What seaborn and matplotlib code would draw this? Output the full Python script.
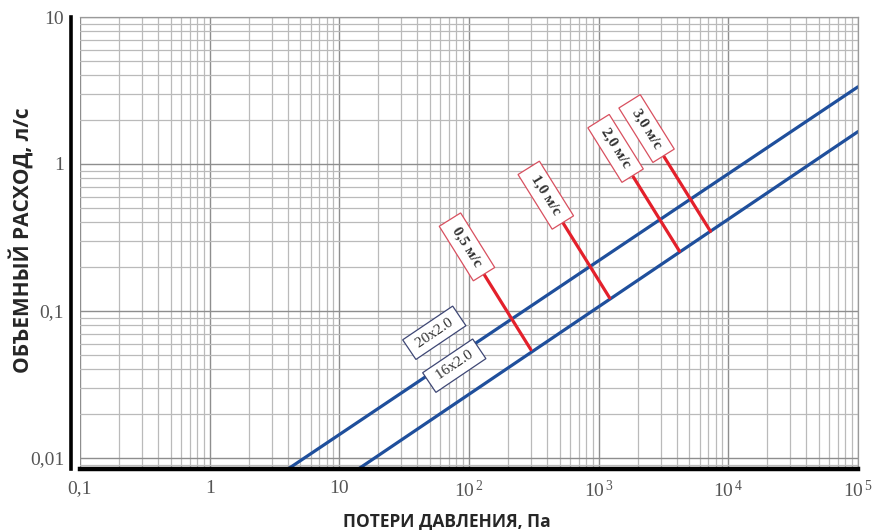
import numpy as np
import matplotlib
matplotlib.use('Agg')
import matplotlib.pyplot as plt
import matplotlib.ticker as mticker
import seaborn as sns

# pipe curves: pressure loss (Pa) vs volume flow (l/s), read at the frame edges
pipe_names = ['20x2.0', '16x2.0']
pipe_dp = [[4.1, 1e5], [14.3, 1e5]]
pipe_q = [[0.0085, 3.35], [0.0085, 1.66]]
# where the pipe name boxes sit
pipe_label_dp = [54, 77]
pipe_label_q = [0.071, 0.0424]

# velocity markers: point on the 16x2.0 curve
vel_labels = ['0,5 м/с', '1,0 м/с', '2,0 м/с', '3,0 м/с']
vel_dp = [300, 1216, 4200, 7280]
vel_q = [0.0545, 0.1225, 0.255, 0.348]

x_ticks = [0.1, 1, 10, 1e2, 1e3, 1e4, 1e5]
x_ticklabels = ['0,1', '1', '10', r'$\mathregular{10^{\,2}}$', r'$\mathregular{10^{\,3}}$',
                r'$\mathregular{10^{\,4}}$', r'$\mathregular{10^{\,5}}$']
y_ticks = [0.01, 0.1, 1, 10]
y_ticklabels = ['0,01', '0,1', '1', '10']

sns.set_style('whitegrid')
plt.rcParams['font.family'] = ['Liberation Serif', 'DejaVu Serif']
plt.rcParams['mathtext.fontset'] = 'custom'
plt.rcParams['mathtext.rm'] = 'Liberation Serif'

fig = plt.figure(figsize=(8.72, 5.3), dpi=100)
ax = fig.add_axes([80 / 872, (530 - 469) / 530, (858 - 80) / 872, (469 - 17) / 530])
ax.set_xscale('log')
ax.set_yscale('log')
ax.set_xlim(0.1, 1e5)
ax.set_ylim(0.0084, 10)

blue = '#1f4f9c'
red = '#e3202b'
for dp, q in zip(pipe_dp, pipe_q):
    sns.lineplot(x=dp, y=q, ax=ax, color=blue, lw=2.3)

# grid
ax.xaxis.set_major_locator(mticker.FixedLocator(x_ticks))
ax.yaxis.set_major_locator(mticker.FixedLocator(y_ticks))
ax.xaxis.set_minor_locator(mticker.LogLocator(base=10, subs=np.arange(2, 10), numticks=100))
ax.yaxis.set_minor_locator(mticker.LogLocator(base=10, subs=np.arange(2, 10), numticks=100))
ax.xaxis.set_minor_formatter(mticker.NullFormatter())
ax.yaxis.set_minor_formatter(mticker.NullFormatter())
ax.grid(which='major', color='#8e8e8e', lw=1.0)
ax.grid(which='minor', color='#bababa', lw=0.9)
ax.set_xticklabels(x_ticklabels)
ax.set_yticklabels(y_ticklabels)
ax.tick_params(axis='x', which='both', length=0, pad=8, labelsize=14, labelcolor='#555555')
ax.tick_params(axis='y', which='major', length=3, width=1, color='#777777', pad=2,
               labelsize=14, labelcolor='#555555')
ax.tick_params(axis='y', which='minor', length=0)

for side in ['top', 'right']:
    ax.spines[side].set_color('#9a9a9a')
    ax.spines[side].set_linewidth(0.9)
ax.spines['bottom'].set_color('black')
ax.spines['bottom'].set_linewidth(3.2)
ax.spines['left'].set_color('black')
ax.spines['left'].set_linewidth(2.6)
ax.spines['left'].set_position(('outward', 6.5))

# velocity markers with boxed labels
for lab, dp, q in zip(vel_labels, vel_dp, vel_q):
    ax.annotate(' ' + lab + ' ', xy=(dp, q), xytext=(-46, 74), textcoords='offset points',
                ha='center', va='center', rotation=-58, rotation_mode='anchor',
                fontsize=11, fontweight='bold', color='#333333',
                bbox=dict(boxstyle='square,pad=0.4', fc='white', ec='#d8505f', lw=0.9),
                arrowprops=dict(arrowstyle='-', color=red, lw=2.3, shrinkA=0, shrinkB=0))

# pipe name boxes
for name, dp, q in zip(pipe_names, pipe_label_dp, pipe_label_q):
    ax.text(dp, q, ' ' + name + ' ', ha='center', va='center', rotation=34,
            rotation_mode='anchor', fontsize=11, color='#333333', zorder=4,
            bbox=dict(boxstyle='square,pad=0.35', fc='white', ec='#3e4775', lw=0.9))

fig.text(447 / 872, 1 - 521 / 530, 'ПОТЕРИ ДАВЛЕНИЯ, Па', ha='center', va='center',
         fontsize=12.5, fontweight='bold', family='Open Sans')
fig.text(21 / 872, 1 - 240 / 530, 'ОБЪЕМНЫЙ РАСХОД, л/с', ha='center', va='center',
         rotation=90, fontsize=15, fontweight='bold', family='Open Sans')

fig.savefig('out.png', dpi=100)
